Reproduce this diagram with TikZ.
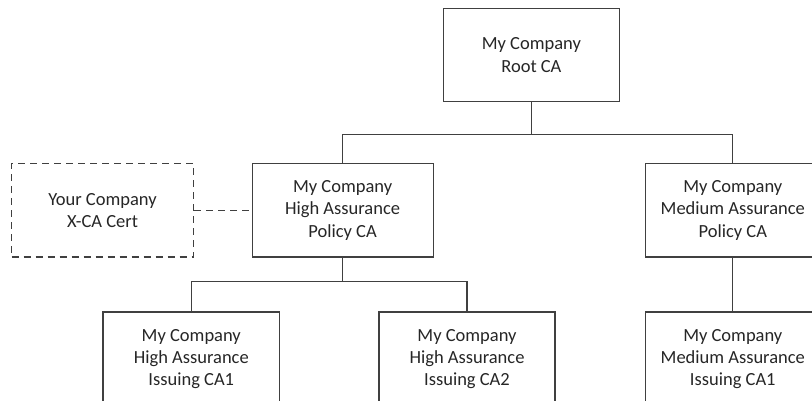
\documentclass[tikz,border=0pt]{standalone}
\usepackage{fontspec}
\setmainfont{Carlito}
\begin{document}
\begin{tikzpicture}[x=1pt,y=-1pt,
  box/.style={draw=black!75, line width=1.2pt, text=black!85, align=center,
    inner sep=0pt, font=\fontsize{18.5}{22.3}\selectfont},
  link/.style={draw=black!75, line width=1.2pt},
  dashlink/.style={draw=black!75, line width=1.2pt, dash pattern=on 7pt off 5pt}]
\useasboundingbox (0,0) rectangle (812,400);
\clip (0,0) rectangle (812,400);
\node[box, minimum width=176pt, minimum height=92.6pt] (root) at (531.4,55) {My Company\\Root CA};
\node[box, minimum width=181pt, minimum height=93.3pt] (hp) at (342.6,210.3) {My Company\\High Assurance\\Policy CA};
\node[box, minimum width=175pt, minimum height=93.3pt] (mp) at (732.8,210.3) {My Company\\Medium Assurance\\Policy CA};
\node[box, dashlink, minimum width=182pt, minimum height=93.3pt] (yc) at (102.5,210.3) {Your Company\\X-CA Cert};
\node[box, minimum width=176.6pt, minimum height=94pt] (hi1) at (191.3,359) {My Company\\High Assurance\\Issuing CA1};
\node[box, minimum width=176pt, minimum height=94pt] (hi2) at (467,359) {My Company\\High Assurance\\Issuing CA2};
\node[box, minimum width=174pt, minimum height=94pt] (mi) at (732.8,359) {My Company\\Medium Assurance\\Issuing CA1};
\coordinate (bus1) at (531.4,134.7);
\coordinate (bus2) at (342.6,281.7);
\draw[link] (root.south) -- (bus1);
\draw[link] (hp.north) |- (bus1) -| (mp.north);
\draw[link] (hp.south) -- (bus2);
\draw[link] (hi1.north) |- (bus2) -| (hi2.north);
\draw[link] (mp.south) -- (mi.north);
\draw[dashlink] (yc.east) -- (hp.west);
\end{tikzpicture}
\end{document}
